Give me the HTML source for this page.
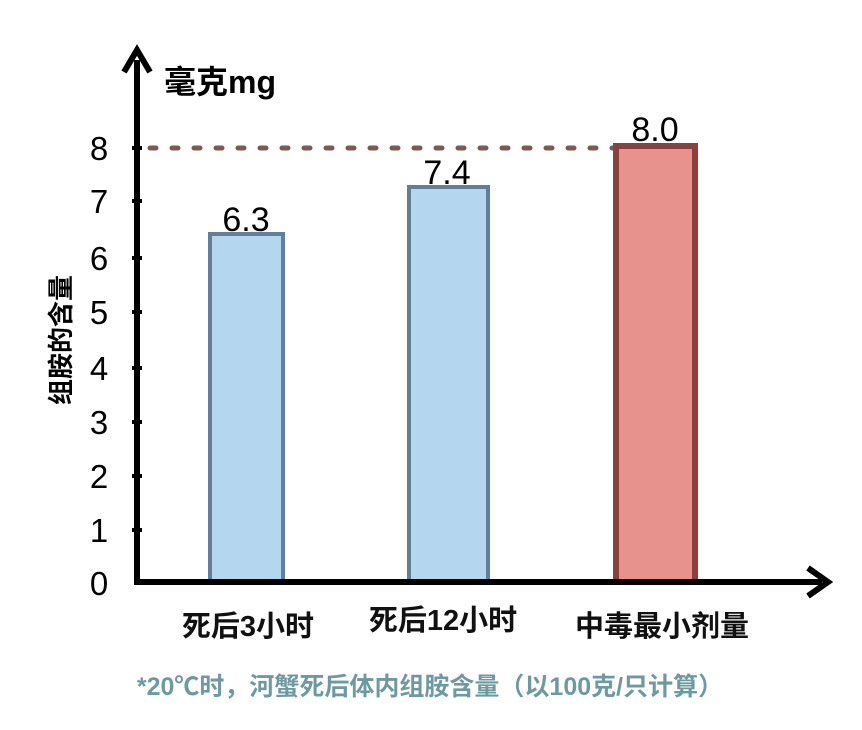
<!DOCTYPE html>
<html><head><meta charset="utf-8"><style>
html,body{margin:0;padding:0;background:#fff;}
svg{display:block;}
text{font-family:"Liberation Sans","Noto Sans CJK SC",sans-serif;}
</style></head><body>
<svg width="862" height="730" viewBox="0 0 862 730" xmlns="http://www.w3.org/2000/svg">
<rect width="862" height="730" fill="#fff"/>
<line x1="150" y1="148" x2="614" y2="148" stroke="#7a5a55" stroke-width="5" stroke-dasharray="6,16" stroke-linecap="round"/>
<rect x="210" y="234" width="73" height="348" fill="#b4d6ee" stroke="#5f7f9c" stroke-width="4"/>
<rect x="409" y="187" width="79" height="395" fill="#b4d6ee" stroke="#5f7f9c" stroke-width="4"/>
<rect x="616" y="146" width="79" height="436" fill="#e8928d" stroke="#8c3f3c" stroke-width="6"/>
<line x1="137" y1="60" x2="137" y2="583" stroke="#000" stroke-width="6"/>
<polyline points="124,72 137,50 150,72" fill="none" stroke="#000" stroke-width="6"/>
<line x1="134" y1="582" x2="822" y2="582" stroke="#000" stroke-width="6"/>
<polyline points="808,568 828,582 808,596" fill="none" stroke="#000" stroke-width="6"/>
<g stroke="#000" stroke-width="4">
<line x1="132" y1="148" x2="142" y2="148"/><line x1="132" y1="201" x2="142" y2="201"/>
<line x1="132" y1="258" x2="142" y2="258"/><line x1="132" y1="312" x2="142" y2="312"/>
<line x1="132" y1="368" x2="142" y2="368"/><line x1="132" y1="422" x2="142" y2="422"/>
<line x1="132" y1="476" x2="142" y2="476"/><line x1="132" y1="530" x2="142" y2="530"/>
</g>
<g font-size="33" text-anchor="middle" fill="#000">
<text x="99" y="160">8</text><text x="99" y="213">7</text><text x="99" y="270">6</text>
<text x="99" y="324">5</text><text x="99" y="380">4</text><text x="99" y="434">3</text>
<text x="99" y="488">2</text><text x="99" y="542">1</text><text x="99" y="595">0</text>
</g>
<text x="164" y="93" font-size="32" font-weight="bold">毫克mg</text>
<text transform="translate(70,340) rotate(-90)" font-size="26" font-weight="bold" text-anchor="middle">组胺的含量</text>
<g font-size="34" text-anchor="middle" fill="#000">
<text x="246" y="231">6.3</text><text x="447" y="184">7.4</text><text x="655" y="141">8.0</text>
</g>
<g font-size="29" font-weight="bold" text-anchor="middle" fill="#111">
<text x="248" y="636">死后3小时</text><text x="443" y="630">死后12小时</text><text x="662" y="636">中毒最小剂量</text>
</g>
<text x="430" y="695" font-size="25" font-weight="bold" fill="#6d9aa0" text-anchor="middle">*20℃时，河蟹死后体内组胺含量（以100克/只计算）</text>
</svg>
</body></html>
